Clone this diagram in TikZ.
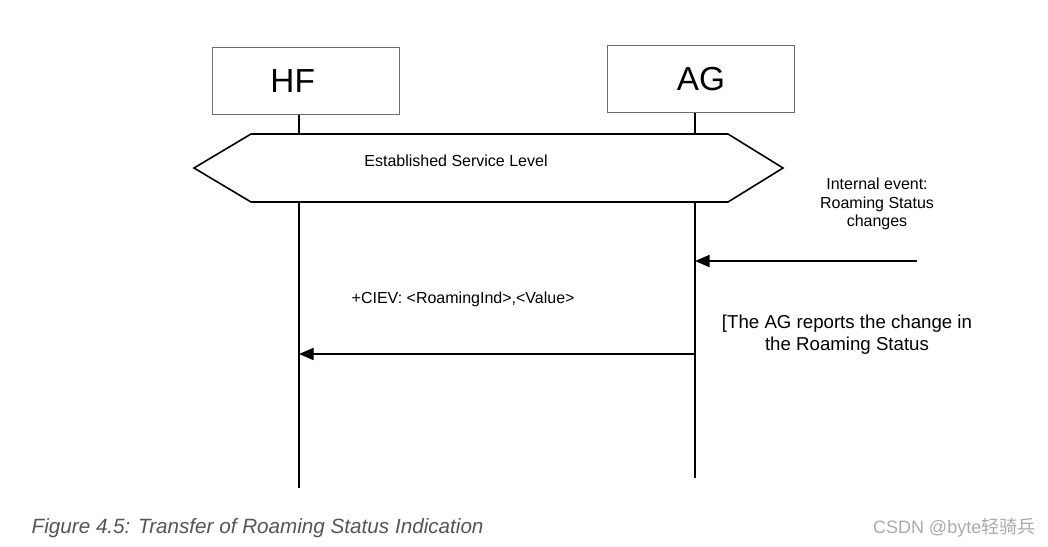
\documentclass[tikz,border=0pt]{standalone}
\usepackage{fontspec}
\setmainfont{Liberation Sans}
\newfontfamily\cjk{Noto Sans CJK SC}
\usetikzlibrary{positioning,arrows.meta,calc}
\definecolor{boxgray}{RGB}{110,110,110}
\definecolor{capgray}{RGB}{85,85,85}
\definecolor{markgray}{RGB}{170,170,170}
\newcommand{\levelband}{(194,168)--(251,134)--(728,134)--(783,168)--(728,202)--(251,202)--cycle}
\tikzset{
  entity/.style={draw=boxgray,line width=0.8pt,minimum width=140pt,minimum height=50pt,font=\fontsize{25}{30}\selectfont},
  life/.style={line width=1.6pt},
  msg/.style={line width=1.6pt,-{Triangle[length=11pt,width=9pt]}},
  note/.style={align=center,font=\fontsize{12}{14}\selectfont},
}

\begin{document}
\begin{tikzpicture}[x=0.75pt,y=-0.75pt]
        \useasboundingbox (0,0) rectangle (1048,546);
        \node[entity] (hf) at (306,81) {HF\hspace*{20pt}};
        \node[entity] (ag) at (701,79) {AG};
        \coordinate (hfend) at (299,488);
        \coordinate (agend) at (695,478);
        \draw[life] (hf.south -| hfend) -- (hfend);
        \draw[life] (ag.south -| agend) -- (agend);
        \filldraw[fill=white,line width=1.2pt] \levelband;
        \node[note] (level) at (456,161) {Established Service Level};
        % internal event on the AG side
        \node[note] (event) at (877,204) {Internal event:\\Roaming Status\\changes};
        \coordinate (evsrc) at (917,261);
        \draw[msg] (evsrc) -- (evsrc -| agend);
        % +CIEV from AG to HF
        \path (agend |- 0,354) coordinate (agmsg) (hfend |- 0,354) coordinate (hfmsg);
        \node[note,anchor=west] (ciev) at (347,299) {+CIEV: <RoamingInd>,<Value>};
        \draw[msg] (agmsg) -- (hfmsg);
        \node[note,font=\fontsize{14}{16.5}\selectfont] (report) at (847,335) {[The AG reports the change in\\the Roaming Status};
        % caption and mark
        \node[anchor=west,text=capgray,font=\fontsize{15.5}{18}\selectfont\itshape] (caption) at (27,528) {Figure 4.5: Transfer of Roaming Status Indication};
        \node[anchor=east,text=markgray,font=\fontsize{13.5}{16}\selectfont] (mark) at (1040,528) {CSDN @byte{\cjk 轻骑兵}};
      \end{tikzpicture}
\end{document}
